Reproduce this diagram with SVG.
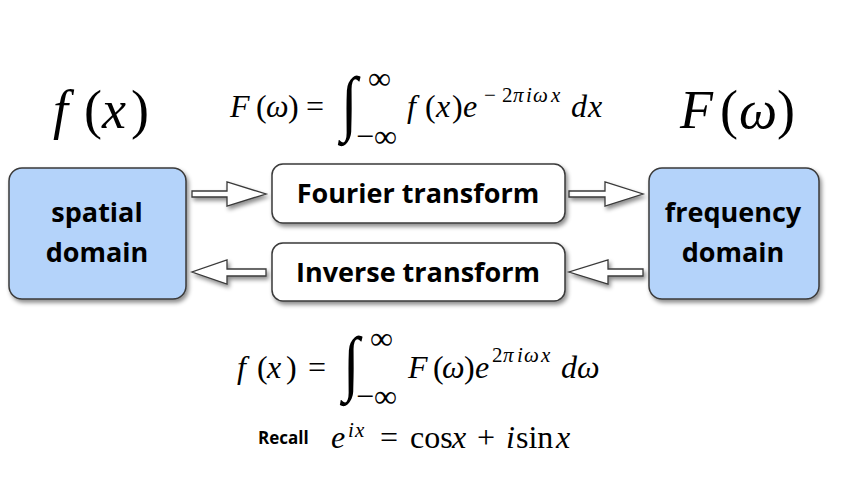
<svg xmlns="http://www.w3.org/2000/svg" width="851" height="482" viewBox="0 0 851 482">
<defs>
<filter id="sh" x="-10%" y="-10%" width="130%" height="130%">
<feDropShadow dx="2" dy="3" stdDeviation="2" flood-color="#000" flood-opacity="0.45"/>
</filter>
<style>
.dom{fill:#b4d3fa;stroke:#3a3a3a;stroke-width:1.5}
.tr{fill:#fff;stroke:#3a3a3a;stroke-width:1.5}
.arr{fill:#fff;stroke:#3a3a3a;stroke-width:1.3;stroke-linejoin:miter}
.lbl{font-family:"Open Sans",Lato,sans-serif;font-weight:700;font-size:27px;fill:#000;text-anchor:middle}
.m{font-family:"Liberation Serif",serif;fill:#000;font-size:32px}
.i{font-style:italic}
.sup{font-size:21px}
.big{font-size:54px}
.int{font-family:"Liberation Serif",serif;font-size:60px;fill:#000}
</style>
</defs>
<rect width="851" height="482" fill="#fff"/>
<g id="connectors" filter="url(#sh)">
<path class="arr" d="M192,191 L227,191 L227,182 L266,194 L227,206 L227,197 L192,197 Z"/>
<path class="arr" d="M569,191 L605,191 L605,182 L643,194 L605,206 L605,197 L569,197 Z"/>
<path class="arr" d="M266,269 L227,269 L227,260 L192,272 L227,284 L227,276 L266,276 Z"/>
<path class="arr" d="M643,269 L608,269 L608,260 L569,272 L608,284 L608,276 L643,276 Z"/>
</g>
<g id="spatial">
<rect class="dom" x="9" y="168" width="177" height="131" rx="13" filter="url(#sh)"/>
<text class="lbl" x="97" y="222">spatial</text>
<text class="lbl" x="97" y="262">domain</text>
</g>
<g id="frequency">
<rect class="dom" x="649" y="168" width="170" height="131" rx="13" filter="url(#sh)"/>
<text class="lbl" x="733" y="222">frequency</text>
<text class="lbl" x="733" y="262">domain</text>
</g>
<g id="fourier">
<rect class="tr" x="272" y="164" width="293" height="59" rx="11" filter="url(#sh)"/>
<text class="lbl" x="418" y="203">Fourier transform</text>
</g>
<g id="inverse">
<rect class="tr" x="272" y="243" width="293" height="58" rx="11" filter="url(#sh)"/>
<text class="lbl" x="418" y="282">Inverse transform</text>
</g>
<g id="math">
<text class="m big" y="128"><tspan class="i" x="53">f</tspan><tspan x="84">(</tspan><tspan class="i" x="102">x</tspan><tspan x="131">)</tspan></text>
<text class="m big" y="128"><tspan class="i" x="680">F</tspan><tspan x="720">(</tspan><tspan class="i" x="739">ω</tspan><tspan x="777">)</tspan></text>

<text class="m" y="117"><tspan class="i" x="230">F</tspan><tspan x="256">(</tspan><tspan class="i" x="266">ω</tspan><tspan x="288">)</tspan><tspan x="306">=</tspan></text>
<text class="int i" x="341" y="127" transform="translate(341 127) scale(1 1.2) translate(-341 -127)">∫</text>
<text class="m" x="368" y="89">∞</text>
<text class="m" x="356" y="147">−∞</text>
<text class="m" y="117"><tspan class="i" x="407">f</tspan><tspan x="425">(</tspan><tspan class="i" x="436">x</tspan><tspan x="452">)</tspan><tspan class="i" x="463">e</tspan><tspan class="sup" x="484" y="102">−</tspan><tspan class="sup" x="502" y="102">2</tspan><tspan class="sup i" x="513" y="102">π</tspan><tspan class="sup i" x="526" y="102">i</tspan><tspan class="sup i" x="533" y="102">ω</tspan><tspan class="sup i" x="551" y="102">x</tspan><tspan class="i" x="571" y="117">d</tspan><tspan class="i" x="588" y="117">x</tspan></text>

<text class="m" y="378"><tspan class="i" x="237">f</tspan><tspan x="257">(</tspan><tspan class="i" x="267">x</tspan><tspan x="286">)</tspan><tspan x="308">=</tspan></text>
<text class="int i" x="343" y="387" transform="translate(343 387) scale(1 1.2) translate(-343 -387)">∫</text>
<text class="m" x="370" y="349">∞</text>
<text class="m" x="356" y="407">−∞</text>
<text class="m" y="378"><tspan class="i" x="408">F</tspan><tspan x="433">(</tspan><tspan class="i" x="442">ω</tspan><tspan x="464">)</tspan><tspan class="i" x="475">e</tspan><tspan class="sup" x="492" y="362">2</tspan><tspan class="sup i" x="503" y="362">π</tspan><tspan class="sup i" x="517" y="362">i</tspan><tspan class="sup i" x="524" y="362">ω</tspan><tspan class="sup i" x="541" y="362">x</tspan><tspan class="i" x="561" y="378">d</tspan><tspan class="i" x="577" y="378">ω</tspan></text>

<text x="258" y="444" font-family="'Open Sans',Lato,sans-serif" font-weight="700" font-size="17">Recall</text>
<text class="m" y="448"><tspan class="i" x="331">e</tspan><tspan class="sup i" x="348" y="437">i</tspan><tspan class="sup i" x="355" y="437">x</tspan><tspan x="380" y="448">=</tspan><tspan x="410">cos</tspan><tspan class="i" x="452">x</tspan><tspan x="477">+</tspan><tspan class="i" x="506">i</tspan><tspan x="516">sin</tspan><tspan class="i" x="556">x</tspan></text>
</g>
</svg>
